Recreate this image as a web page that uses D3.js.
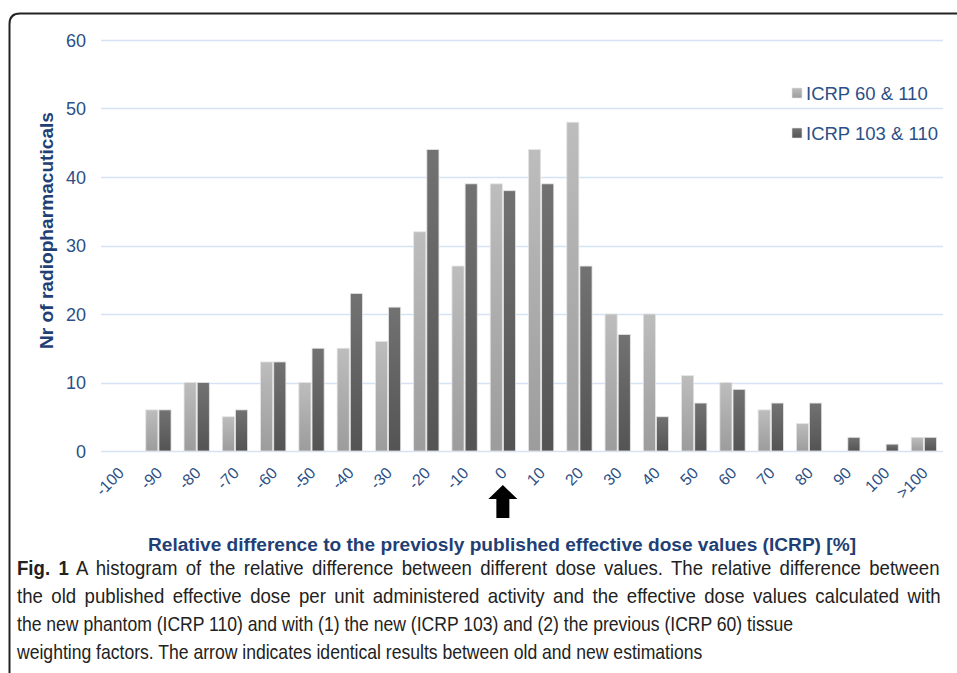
<!DOCTYPE html>
<html>
<head>
<meta charset="utf-8">
<script src="https://cdn.jsdelivr.net/npm/d3@7"></script>
<style>
  body { margin: 0; background: #fff; }
  svg { display: block; }
  text { font-family: "Liberation Sans", Arial, sans-serif; }
</style>
</head>
<body>
<script>
// categories along the x axis (relative difference, %)
var categories = ["-100","-90","-80","-70","-60","-50","-40","-30","-20","-10","0",
  "10","20","30","40","50","60","70","80","90","100",">100"];
var seriesNames = ["ICRP 60 & 110", "ICRP 103 & 110"];
// counts
var icrp60 = [0,6,10,5,13,10,15,16,32,27,39,44,48,20,20,11,10,6,4,0,0,2];
var icrp103 = [0,6,10,6,13,15,23,21,44,39,38,39,27,17,5,7,9,7,7,2,1,2];
var yTicks = [0,10,20,30,40,50,60];

// caption lines; the first two are justified to full width
var captionLines = [
  {bold: "Fig. 1", text: " A histogram of the relative difference between different dose values. The relative difference between", justify: 923},
  {bold: "", text: "the old published effective dose per unit administered activity and the effective dose values calculated with", justify: 924},
  {bold: "", text: "the new phantom (ICRP 110) and with (1) the new (ICRP 103) and (2) the previous (ICRP 60) tissue", justify: 0},
  {bold: "", text: "weighting factors. The arrow indicates identical results between old and new estimations", justify: 0}
];

var W = 957, H = 673;
var blue = "#2b4f86";
var svg = d3.select("body").append("svg")
  .attr("width", W).attr("height", H);

// gradients for the bars
var defs = svg.append("defs");
var grads = [["gLight", "#bdbdbd", "#9c9c9c"], ["gDark", "#727272", "#545454"]];
grads.forEach(function(g){
  var lg = defs.append("linearGradient").attr("id", g[0])
    .attr("x1", 0).attr("y1", 0).attr("x2", 0).attr("y2", 1);
  lg.append("stop").attr("offset", "0%").attr("stop-color", g[1]);
  lg.append("stop").attr("offset", "100%").attr("stop-color", g[2]);
});

// frame with rounded corner
svg.append("path")
  .attr("d", "M9.5,673 L9.5,24 Q9.5,13.5 20,13.5 L957,13.5")
  .attr("fill", "none").attr("stroke", "#222").attr("stroke-width", 2);

var x = d3.scaleBand().domain(categories).range([101, 943]).padding(0);
var bw = x.bandwidth();
var x1 = d3.scaleBand().domain([0, 1]).range([6.5, bw - 6.5]).paddingInner(0.08);
var y = d3.scaleLinear().domain([0, 60]).range([451, 40]);

// grid lines
svg.append("g").selectAll("line").data(yTicks).enter().append("line")
  .attr("x1", 101).attr("x2", 943)
  .attr("y1", function(d){ return Math.round(y(d)) + 0.5; })
  .attr("y2", function(d){ return Math.round(y(d)) + 0.5; })
  .attr("stroke", "#d5e2f3").attr("stroke-width", 1.4);

// y tick labels
svg.append("g").selectAll("text").data(yTicks).enter().append("text")
  .attr("x", 86).attr("y", function(d){ return y(d) + 6.5; })
  .attr("text-anchor", "end")
  .attr("font-size", 18)
  .attr("fill", blue)
  .text(function(d){ return d; });

// bars
var series = [icrp60, icrp103];
var fills = ["url(#gLight)", "url(#gDark)"];
series.forEach(function(vals, si){
  svg.append("g").selectAll("rect").data(vals).enter().append("rect")
    .attr("x", function(d, i){ return x(categories[i]) + x1(si); })
    .attr("width", x1.bandwidth())
    .attr("y", function(d){ return y(d); })
    .attr("height", function(d){ return y(0) - y(d); })
    .attr("fill", fills[si])
    .attr("stroke", "#e4e4e4").attr("stroke-width", 0.8)
    .style("display", function(d){ return d > 0 ? null : "none"; });
});

// x tick labels, rotated
svg.append("g").selectAll("text").data(categories).enter().append("text")
  .attr("transform", function(d){
    return "translate(" + (x(d) + bw / 2 + 5) + ",474) rotate(-45)";
  })
  .attr("text-anchor", "end")
  .attr("font-size", 16)
  .attr("fill", blue)
  .text(function(d){ return d; });

// y axis title
svg.append("text")
  .attr("transform", "translate(53,349) rotate(-90)")
  .attr("textLength", 237).attr("lengthAdjust", "spacingAndGlyphs")
  .attr("font-size", 17.5).attr("font-weight", "bold")
  .attr("fill", "#1f3f75")
  .text("Nr of radiopharmacuticals");

// x axis title
svg.append("text")
  .attr("x", 148).attr("y", 551)
  .attr("textLength", 708).attr("lengthAdjust", "spacingAndGlyphs")
  .attr("font-size", 18).attr("font-weight", "bold")
  .attr("fill", "#1f3f75")
  .text("Relative difference to the previosly published effective dose values (ICRP) [%]");

// arrow pointing at 0
var ax = x("0") + bw / 2;
svg.append("path")
  .attr("d", "M" + ax + ",485 L" + (ax + 14.5) + ",499 L" + (ax + 6.5) + ",499 L" + (ax + 6.5) +
    ",518 L" + (ax - 6.5) + ",518 L" + (ax - 6.5) + ",499 L" + (ax - 14.5) + ",499 Z")
  .attr("fill", "#000");

// legend
var leg = svg.append("g");
seriesNames.forEach(function(name, i){
  var g = leg.append("g").attr("transform", "translate(792," + (88 + i * 40) + ")");
  g.append("rect").attr("width", 10).attr("height", 10).attr("fill", fills[i])
    .attr("stroke", "#e4e4e4").attr("stroke-width", 0.6);
  g.append("text").attr("x", 14).attr("y", 12)
    .attr("font-size", 18.5)
    .attr("fill", blue)
    .text(name);
});

// caption: lines squeezed horizontally (factor set by the last line, which
// ends near x = 703); the first two lines are justified, half by a milder
// squeeze and half by wider word gaps
var cap = svg.append("g");
var capTexts = captionLines.map(function(l, i){
  var t = cap.append("text")
    .attr("x", 0).attr("y", 0)
    .attr("font-size", 20.5)
    .attr("fill", "#222");
  if (l.bold) t.append("tspan").attr("font-weight", "bold").text(l.bold);
  t.append("tspan").text(l.text);
  return t;
});
var k = 686 / capTexts[3].node().getComputedTextLength();
capTexts.forEach(function(t, i){
  var l = captionLines[i];
  var s = k;
  var natural = t.node().getComputedTextLength();
  if (l.justify) {
    var r = l.justify / natural;
    s = Math.min(r, k + 0.5 * (r - k));
    var spaces = (l.bold + l.text).split(" ").length - 1;
    t.attr("word-spacing", (l.justify / s - natural) / spaces);
  }
  t.attr("transform", "translate(17," + (575 + i * 28) + ") scale(" + s + ",1)");
});
</script>
</body>
</html>
